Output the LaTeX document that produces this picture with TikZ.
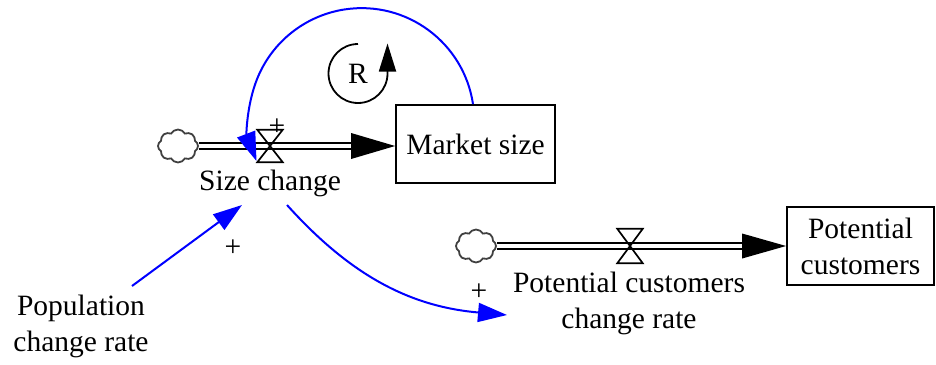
\documentclass[tikz,border=0pt]{standalone}
\usepackage{fontspec}
\setmainfont{Liberation Serif}
\usetikzlibrary{arrows.meta,shapes.symbols}
\begin{document}
\begin{tikzpicture}[x=1pt,y=1pt,
  txt/.style={font=\fontsize{29.5}{36}\selectfont, inner sep=0, align=center},
  stock/.style={draw, line width=1.8pt, font=\fontsize{29.5}{36}\selectfont, align=center, inner sep=0},
  pipe/.style={draw, line width=2pt, double=white, double distance=4pt},
  srccloud/.style={cloud, cloud puffs=8, cloud puff arc=120, draw=black!75, line width=1.8pt, minimum width=40pt, minimum height=33pt, inner sep=0, aspect=1.2},
  valvebox/.style={minimum width=25pt, minimum height=32pt, inner sep=0},
  valve/.style={draw, line width=1.7pt, line join=miter},
  link/.style={draw=blue, line width=2pt, -{Triangle[length=29pt,width=19pt]}},
  headfill/.style={fill=black},
]
\useasboundingbox (0,0) rectangle (936,-364);

% stocks
\node[stock, minimum width=159pt, minimum height=78pt] (mkt) at (475.5,-144) {Market size};
\node[stock, minimum width=147pt, minimum height=78pt] (pc) at (860.5,-246) {Potential\\customers};

% sources
\node[srccloud] (c1) at (178,-146) {};
\node[srccloud] (c2) at (476,-246) {};

% valves
\node[valvebox] (v1) at (270,-146) {};
\node[valvebox, minimum height=34pt] (v2) at (630,-246) {};

% flow 1
\coordinate (t1) at (mkt.west |- c1.east);
\coordinate (h1) at ([xshift=-44pt]t1);
\draw[pipe] (c1.east) -- (h1);
\fill[headfill] (t1) -- ([yshift=13pt]h1) -- ([yshift=-13pt]h1) -- cycle;
\draw[valve] (v1.north west) -- (v1.north east) -- (v1.south west) -- (v1.south east) -- cycle;

% flow 2
\coordinate (t2) at (pc.west |- c2.east);
\coordinate (h2) at ([xshift=-44pt]t2);
\draw[pipe] (c2.east) -- (h2);
\fill[headfill] (t2) -- ([yshift=12.5pt]h2) -- ([yshift=-12.5pt]h2) -- cycle;
\draw[valve] (v2.north west) -- (v2.north east) -- (v2.south west) -- (v2.south east) -- cycle;

% labels
\node[txt, anchor=base] (sc) at (270,-190) {Size change};
\node[txt] (pcr) at (629,-303) {Potential customers\\change rate};
\node[txt] (pop) at (81,-326) {Population\\change rate};

% polarity signs
\node[txt] (s1) at (277,-127) {+};
\node[txt] (s2) at (233,-248) {+};
\node[txt] (s3) at (479,-292) {+};

% loop marker
\node[txt] (loopR) at (358,-73.5) {R};
\draw[line width=1.8pt, -{Triangle[length=28pt,width=17pt]}] ([yshift=29.5pt]loopR.center) arc[start angle=90, end angle=360, radius=29.5] -- ++(0,30);

% feedback arc from Market size to valve
\draw[link] ([xshift=-2.5pt]mkt.north) arc[start angle=8.5, end angle=201, radius=112.6];

% causal links
\coordinate (popout) at (132,-286);
\coordinate (scin) at (242,-205);
\coordinate (scout) at (287,-205);
\coordinate (pcrin) at (507,-315);
\draw[link] (popout) -- (scin);
\draw[link] (scout) to[out=-48,in=175] (pcrin);
\end{tikzpicture}
\end{document}
